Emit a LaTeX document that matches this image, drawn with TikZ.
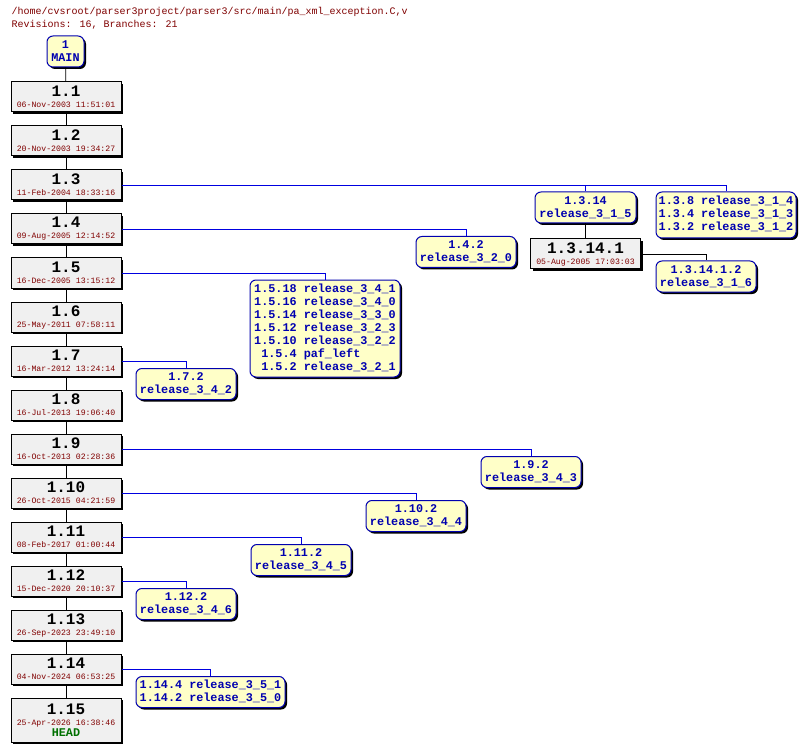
\documentclass[tikz,border=0pt]{standalone}
\usepackage{fontspec}
\setmainfont{Liberation Mono}
\usetikzlibrary{shadows}
\definecolor{datec}{HTML}{800000}
\definecolor{tagc}{HTML}{0000B0}
\definecolor{brc}{HTML}{0000E0}
\definecolor{headc}{HTML}{007000}
\definecolor{tagfill}{HTML}{FFFFC8}
\definecolor{revfill}{HTML}{F0F0F0}
\begin{document}
\begin{tikzpicture}[x=1pt,y=-1pt,
 rev/.style={draw=black,line width=1pt,fill=revfill,minimum width=110pt,minimum height=30pt,inner sep=1pt,align=center,
   drop shadow={shadow xshift=2pt,shadow yshift=-2pt,fill=black,opacity=1}},
 tag/.style={draw=tagc,line width=1pt,fill=tagfill,rounded corners=6pt,inner xsep=2pt,inner ysep=1pt,align=center,
   font=\fontsize{11.8}{13}\selectfont\bfseries,text=tagc,minimum height=31pt,
   drop shadow={shadow xshift=2pt,shadow yshift=-2pt,fill=black,opacity=1}},
 br/.style={draw=brc,line width=0.8pt},
 tr/.style={draw=black,line width=0.8pt}]
\useasboundingbox (0,0) rectangle (808,751);
\fill[white] (0,0) rectangle (808,751);
\node[anchor=west,text=datec,font=\fontsize{10}{12}\selectfont] (h1) at (8,12) {/home/cvsroot/parser3project/parser3/src/main/pa\_xml\_exception.C,v};
\node[anchor=west,text=datec,font=\fontsize{10}{12}\selectfont] (h2) at (8,25) {Revisions: 16, Branches: 21};
\newcommand{\rv}[2]{{\fontsize{16}{15}\selectfont\bfseries #1}\\[-1pt]{\fontsize{8.2}{8}\selectfont\color{datec}#2}}
\node[tag,minimum width=37pt] (main) at (65.5,51.5) {1\\MAIN};
\node[rev] (r1) at (66,97) {\rv{1.1}{06-Nov-2003 11:51:01}};
\node[rev] (r2) at (66,141) {\rv{1.2}{20-Nov-2003 19:34:27}};
\node[rev] (r3) at (66,185) {\rv{1.3}{11-Feb-2004 18:33:16}};
\node[rev] (r4) at (66,229) {\rv{1.4}{09-Aug-2005 12:14:52}};
\node[rev] (r5) at (66,273) {\rv{1.5}{16-Dec-2005 13:15:12}};
\node[rev] (r6) at (66,317) {\rv{1.6}{25-May-2011 07:58:11}};
\node[rev] (r7) at (66,361) {\rv{1.7}{16-Mar-2012 13:24:14}};
\node[rev] (r8) at (66,405) {\rv{1.8}{16-Jul-2013 19:06:40}};
\node[rev] (r9) at (66,449) {\rv{1.9}{16-Oct-2013 02:28:36}};
\node[rev] (r10) at (66,493) {\rv{1.10}{26-Oct-2015 04:21:59}};
\node[rev] (r11) at (66,537) {\rv{1.11}{08-Feb-2017 01:00:44}};
\node[rev] (r12) at (66,581) {\rv{1.12}{15-Dec-2020 20:10:37}};
\node[rev] (r13) at (66,625) {\rv{1.13}{26-Sep-2023 23:49:10}};
\node[rev] (r14) at (66,669) {\rv{1.14}{04-Nov-2024 06:53:25}};
\node[rev,minimum height=44pt] (r15) at (66,720) {\rv{1.15}{25-Apr-2026 16:38:46}\\[-1pt]{\fontsize{11.8}{12}\selectfont\bfseries\color{headc}HEAD}};
\node[rev] (r3141) at (585.5,254) {\rv{1.3.14.1}{05-Aug-2005 17:03:03}};
% tags
\node[tag,minimum width=101pt] (t314) at (585.5,207.5) {1.3.14\\release\_3\_1\_5};
\node[tag,minimum width=140pt,minimum height=46pt] (t38) at (726,215) {\begin{tabular}{@{}r@{ }l@{}}1.3.8&release\_3\_1\_4\\1.3.4&release\_3\_1\_3\\1.3.2&release\_3\_1\_2\end{tabular}};
\node[tag,minimum width=100pt] (t31412) at (706,276.5) {1.3.14.1.2\\release\_3\_1\_6};
\node[tag,minimum width=100pt] (t42) at (466,252) {1.4.2\\release\_3\_2\_0};
\node[tag,minimum width=150pt,minimum height=97pt] (t518) at (325,328.5) {\begin{tabular}{@{}r@{ }l@{}}1.5.18&release\_3\_4\_1\\1.5.16&release\_3\_4\_0\\1.5.14&release\_3\_3\_0\\1.5.12&release\_3\_2\_3\\1.5.10&release\_3\_2\_2\\1.5.4&paf\_left\\1.5.2&release\_3\_2\_1\end{tabular}};
\node[tag,minimum width=100pt] (t72) at (186,384) {1.7.2\\release\_3\_4\_2};
\node[tag,minimum width=100pt] (t92) at (531,472) {1.9.2\\release\_3\_4\_3};
\node[tag,minimum width=100pt] (t102) at (416,516) {1.10.2\\release\_3\_4\_4};
\node[tag,minimum width=100pt] (t112) at (301,560) {1.11.2\\release\_3\_4\_5};
\node[tag,minimum width=100pt] (t122) at (186,604) {1.12.2\\release\_3\_4\_6};
\node[tag,minimum width=149pt] (t142) at (210.5,692) {\begin{tabular}{@{}r@{ }l@{}}1.14.4&release\_3\_5\_1\\1.14.2&release\_3\_5\_0\end{tabular}};
% trunk
\draw[tr] (main) -- (r1); \draw[tr] (r1) -- (r2); \draw[tr] (r2) -- (r3); \draw[tr] (r3) -- (r4);
\draw[tr] (r4) -- (r5); \draw[tr] (r5) -- (r6); \draw[tr] (r6) -- (r7); \draw[tr] (r7) -- (r8);
\draw[tr] (r8) -- (r9); \draw[tr] (r9) -- (r10); \draw[tr] (r10) -- (r11); \draw[tr] (r11) -- (r12);
\draw[tr] (r12) -- (r13); \draw[tr] (r13) -- (r14); \draw[tr] (r14) -- (r15);
\draw[tr] (t314) -- (r3141);
\draw[br] (r3.east) -| (t314.north);
\draw[br] (r3.east) -| (t38.north);
\draw[tr] (r3141.east) -| (t31412.north);
\draw[br] (r4.east) -| (t42.north);
\draw[br] (r5.east) -| (t518.north);
\draw[br] (r7.east) -| (t72.north);
\draw[br] (r9.east) -| (t92.north);
\draw[br] (r10.east) -| (t102.north);
\draw[br] (r11.east) -| (t112.north);
\draw[br] (r12.east) -| (t122.north);
\draw[br] (r14.east) -| (t142.north);
\end{tikzpicture}
\end{document}
